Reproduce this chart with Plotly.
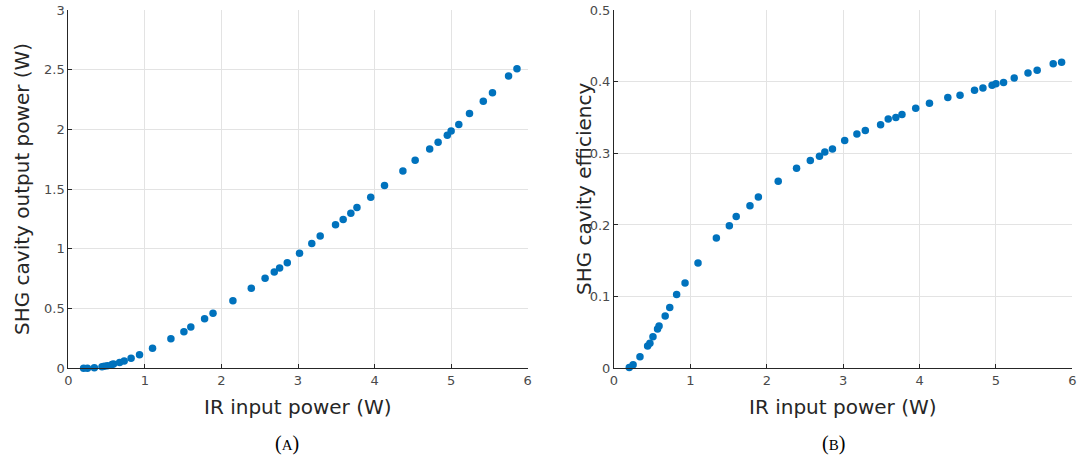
import plotly.graph_objects as go

# IR input power (W)
ir_power = [0.20, 0.25, 0.34, 0.44, 0.47, 0.51, 0.57, 0.59, 0.67, 0.73, 0.82, 0.93,
            1.10, 1.34, 1.51, 1.60, 1.78, 1.89, 2.15, 2.39, 2.57, 2.69, 2.76, 2.86,
            3.02, 3.18, 3.29, 3.49, 3.59, 3.69, 3.77, 3.95, 4.13, 4.37, 4.53, 4.72,
            4.83, 4.95, 5.00, 5.10, 5.24, 5.42, 5.54, 5.75, 5.86]
# SHG cavity output power (W)
shg_power = [0.000, 0.001, 0.005, 0.013, 0.017, 0.022, 0.031, 0.035, 0.049, 0.062, 0.085, 0.113,
             0.167, 0.248, 0.307, 0.346, 0.415, 0.460, 0.566, 0.670, 0.754, 0.806, 0.840, 0.884,
             0.963, 1.044, 1.108, 1.202, 1.246, 1.299, 1.346, 1.432, 1.530, 1.652, 1.742, 1.837,
             1.893, 1.951, 1.987, 2.041, 2.133, 2.236, 2.308, 2.447, 2.509]
# SHG cavity efficiency
shg_eff = [0.001, 0.005, 0.016, 0.031, 0.035, 0.044, 0.055, 0.059, 0.073, 0.085, 0.103, 0.119,
           0.147, 0.182, 0.199, 0.212, 0.227, 0.239, 0.261, 0.279, 0.290, 0.296, 0.302, 0.306,
           0.318, 0.327, 0.332, 0.340, 0.348, 0.350, 0.354, 0.363, 0.370, 0.378, 0.381, 0.388,
           0.391, 0.395, 0.397, 0.399, 0.405, 0.412, 0.416, 0.425, 0.427]

x_ticks = [0, 1, 2, 3, 4, 5, 6]
yA_ticks = [0, 0.5, 1, 1.5, 2, 2.5, 3]
yB_ticks = [0, 0.1, 0.2, 0.3, 0.4, 0.5]

W, H = 1077, 461
MC = "#0072BD"
FONT = "DejaVu Sans"
AXC = "#262626"
GRID = "#e3e3e3"

fig = go.Figure()
fig.add_trace(go.Scatter(x=ir_power, y=shg_power, mode="markers",
                         marker=dict(color=MC, size=7.5, line=dict(width=0)),
                         xaxis="x", yaxis="y", showlegend=False, cliponaxis=False))
fig.add_trace(go.Scatter(x=ir_power, y=shg_eff, mode="markers",
                         marker=dict(color=MC, size=7.5, line=dict(width=0)),
                         xaxis="x2", yaxis="y2", showlegend=False, cliponaxis=False))

yd = [1 - 368.3 / H, 1 - 10 / H]
tf = dict(family=FONT, size=13, color="#4a4a4a")
common_x = dict(range=[0, 6], tickvals=x_ticks, showgrid=True, gridcolor=GRID, gridwidth=1,
                showline=True, linecolor=AXC, linewidth=1, mirror=False, zeroline=False,
                ticks="inside", ticklen=4, tickcolor=AXC, tickfont=tf, automargin=False)
common_y = dict(showgrid=True, gridcolor=GRID, gridwidth=1,
                showline=True, linecolor=AXC, linewidth=1, mirror=False, zeroline=False,
                ticks="inside", ticklen=4, tickcolor=AXC, tickfont=tf, automargin=False)

fig.update_layout(
    width=W, height=H,
    margin=dict(l=0, r=0, t=0, b=0, autoexpand=False),
    paper_bgcolor="white", plot_bgcolor="white",
    xaxis=dict(domain=[68.3 / W, 527.7 / W], anchor="y", **common_x),
    yaxis=dict(domain=yd, anchor="x", range=[0, 3], tickvals=yA_ticks, **common_y),
    xaxis2=dict(domain=[614 / W, 1072.3 / W], anchor="y2", **common_x),
    yaxis2=dict(domain=yd, anchor="x2", range=[0, 0.5], tickvals=yB_ticks, **common_y),
)

def px_x(p):
    return p / W

def px_y(p):
    return 1 - p / H

title_font = dict(family=FONT, size=20, color="#262626")
anns = [
    dict(text="IR input power (W)", x=px_x(298), y=px_y(407), font=title_font),
    dict(text="IR input power (W)", x=px_x(843), y=px_y(407), font=title_font),
    dict(text="SHG cavity output power (W)", x=px_x(22), y=px_y(189), font=title_font, textangle=-90),
    dict(text="SHG cavity efficiency", x=px_x(584), y=px_y(189), font=title_font, textangle=-90),
    dict(text="(<span style='font-size:15px'>A</span>)", x=px_x(287), y=px_y(443),
         font=dict(family="Liberation Serif", size=20, color="black")),
    dict(text="(<span style='font-size:15px'>B</span>)", x=px_x(833), y=px_y(443),
         font=dict(family="Liberation Serif", size=20, color="black")),
]
for a in anns:
    a.update(xref="paper", yref="paper", xanchor="center", yanchor="middle", showarrow=False)
fig.update_layout(annotations=anns)

fig.write_html("out.html", config={"displayModeBar": False},
               post_script="document.body.style.margin='0';document.body.style.overflow='hidden';")
